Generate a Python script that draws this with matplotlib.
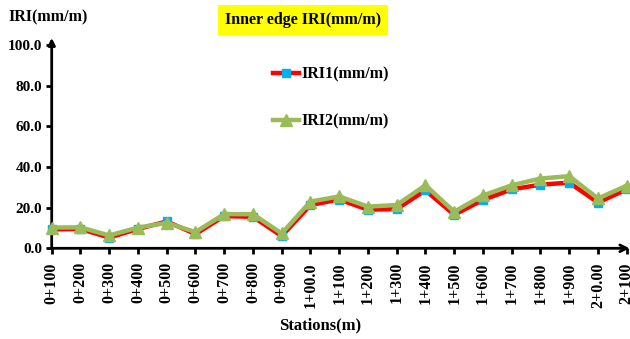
import matplotlib
matplotlib.use("Agg")
import matplotlib.pyplot as plt

stations = ["0+100", "0+200", "0+300", "0+400", "0+500", "0+600", "0+700",
            "0+800", "0+900", "1+00.0", "1+100", "1+200", "1+300", "1+400",
            "1+500", "1+600", "1+700", "1+800", "1+900", "2+0.00", "2+100"]
iri1 = [9.3, 9.5, 5.3, 9.5, 13.2, 7.0, 15.8, 15.5, 6.0, 21.3, 24.0, 19.0,
        19.3, 28.5, 16.5, 23.8, 29.0, 31.3, 32.3, 22.5, 29.0]
iri2 = [10.2, 10.3, 6.3, 10.2, 12.5, 8.0, 16.8, 16.8, 7.3, 23.0, 25.5, 20.5,
        21.3, 31.0, 18.0, 26.0, 31.0, 34.3, 35.5, 24.5, 30.8]
yticks = [0, 20, 40, 60, 80, 100]

plt.rcParams['font.family'] = ['Liberation Serif', 'DejaVu Serif']
plt.rcParams['font.weight'] = 'bold'

fig = plt.figure(figsize=(6.30, 3.39), dpi=100)
ax = fig.add_axes([51.7 / 630, 1 - 248.3 / 339, 575 / 630, 203.3 / 339])

x = list(range(len(stations)))
ax.plot(x, iri1, color='#FF0000', lw=3.2, marker='s', ms=6,
        mfc='#00B0F0', mec='#00B0F0', label='IRI1(mm/m)', clip_on=False, zorder=3)
ax.plot(x, iri2, color='#9BBB59', lw=3.2, marker='^', ms=9,
        mfc='#9BBB59', mec='#9BBB59', label='IRI2(mm/m)', clip_on=False, zorder=4)

ax.set_xlim(0, len(stations) - 1)
ax.set_ylim(0, 100)
for s in ax.spines.values():
    s.set_visible(False)

# axis lines with arrowheads
ax.annotate('', xy=(0, 1.035), xytext=(0, 0), xycoords='axes fraction',
            arrowprops=dict(arrowstyle='-|>', lw=2, color='black',
                            mutation_scale=10, shrinkA=0, shrinkB=0),
            annotation_clip=False)
ax.annotate('', xy=(1.005, 0), xytext=(0, 0), xycoords='axes fraction',
            arrowprops=dict(arrowstyle='->', lw=2, color='black',
                            mutation_scale=12, shrinkA=0, shrinkB=0),
            annotation_clip=False)

ax.set_yticks(yticks)
ax.set_yticklabels([f"{v:.1f}" for v in yticks])
ax.set_xticks(x)
ax.set_xticklabels(stations, rotation=90)
ax.tick_params(axis='y', direction='out', length=4, width=2, labelsize=11, pad=3)
ax.tick_params(axis='x', direction='out', length=4, width=2, labelsize=11.5, pad=6)
for lab in ax.get_xticklabels() + ax.get_yticklabels():
    lab.set_fontweight('bold')

fig.text(320 / 630, 1 - 325 / 339, 'Stations(m)', fontsize=12,
         fontweight='bold', va='center', ha='center')
fig.text(8 / 630, 1 - 17 / 339, 'IRI(mm/m)', fontsize=11.5,
         fontweight='bold', va='center', ha='left')
fig.text(303 / 630, 1 - 20 / 339, 'Inner edge IRI(mm/m)', fontsize=11.5,
         fontweight='bold', va='center', ha='center',
         bbox=dict(boxstyle='square,pad=0.45', fc='#FFFF00', ec='none'))

leg = ax.legend(loc='upper left', bbox_to_anchor=(0.36, 0.965), frameon=False,
                prop=dict(size=11.5, weight='bold'), labelspacing=1.95,
                handlelength=1.6, handletextpad=0.15)

fig.savefig('out.png', dpi=100)
